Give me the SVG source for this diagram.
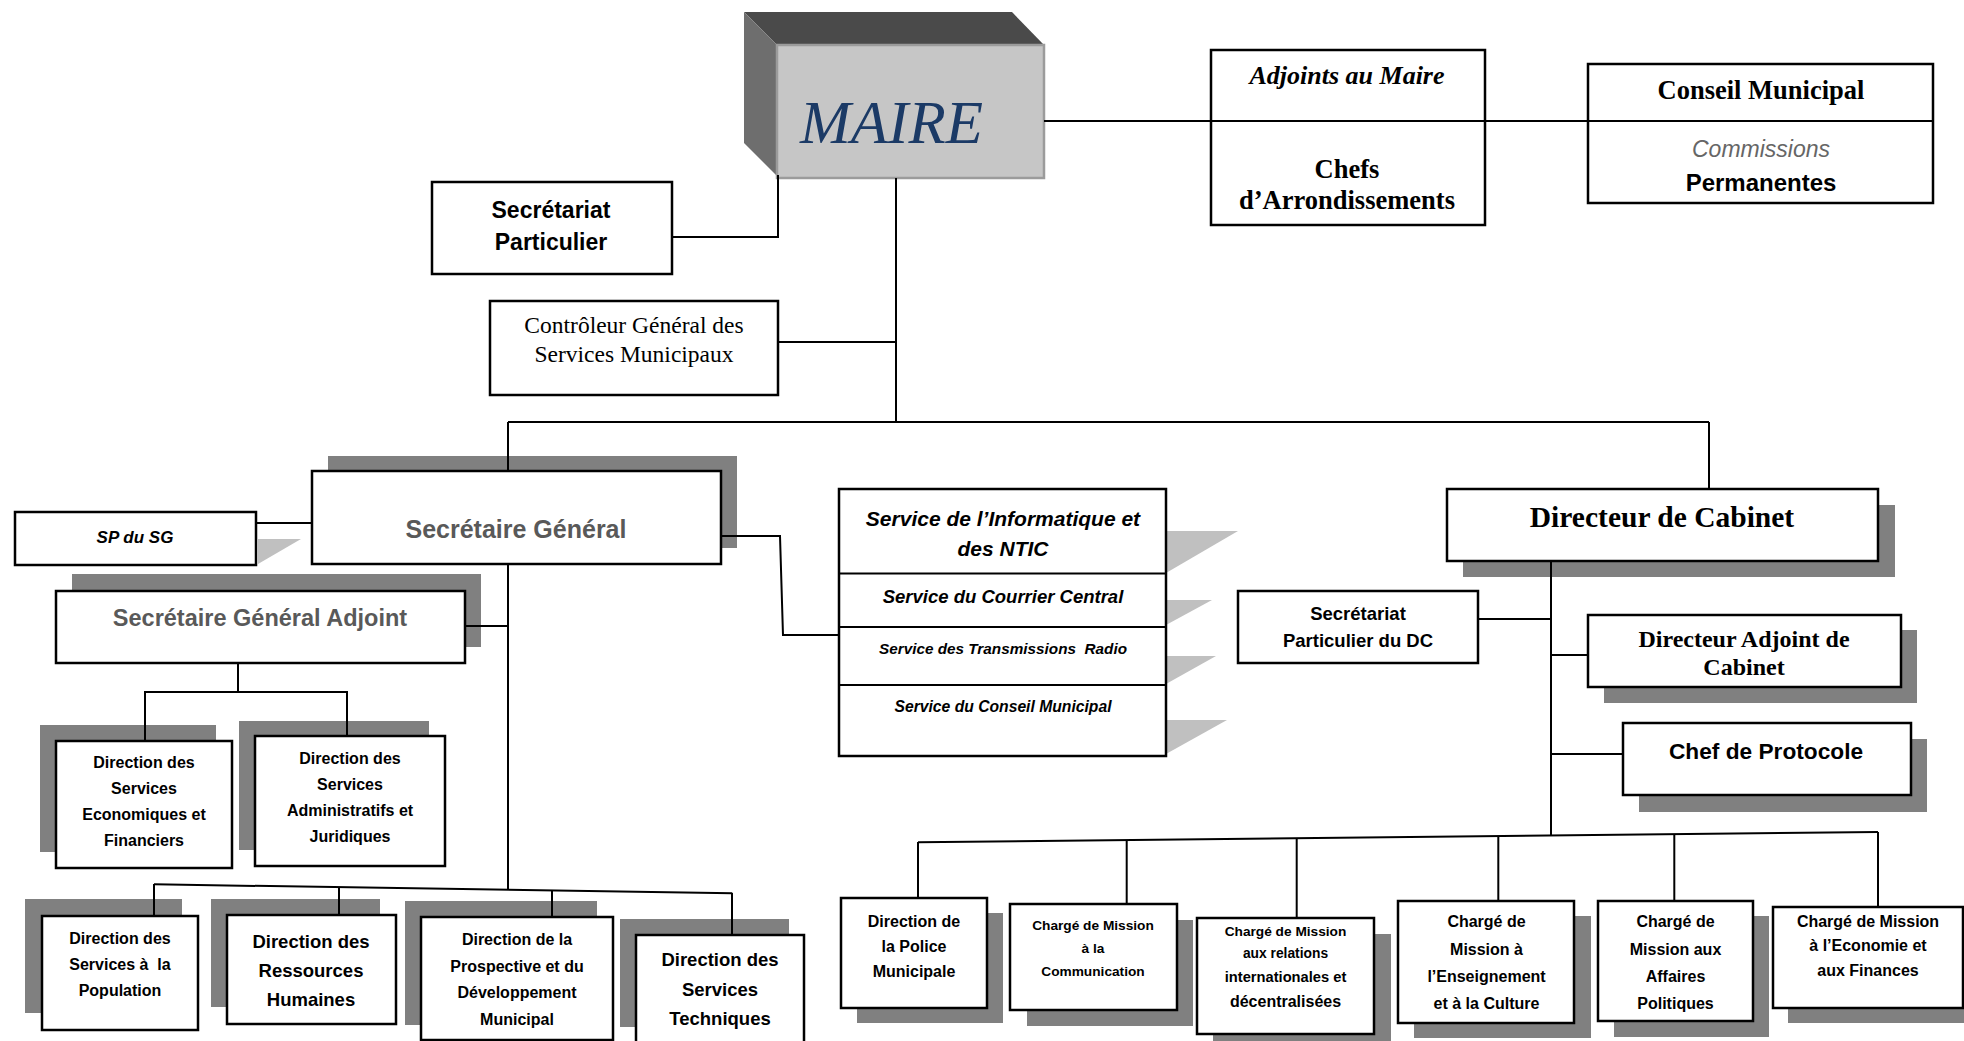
<svg xmlns="http://www.w3.org/2000/svg" width="1964" height="1041" viewBox="0 0 1964 1041">
<style>
.bx{fill:#fff;stroke:#000;stroke-width:2.5}
.sh{fill:#808080}
.tri{fill:#c0c0c0}
.ln{stroke:#000;stroke-width:2;fill:none}
text{text-anchor:middle}
.s{font-family:"Liberation Sans",Arial,sans-serif;font-weight:bold;fill:#000}
.si{font-family:"Liberation Sans",Arial,sans-serif;font-weight:bold;font-style:italic;fill:#000}
.g{fill:#595959}
.r{font-family:"Liberation Serif","Times New Roman",serif;fill:#000}
.rb{font-family:"Liberation Serif","Times New Roman",serif;font-weight:bold;fill:#000}
.rbi{font-family:"Liberation Serif","Times New Roman",serif;font-weight:bold;font-style:italic;fill:#000}
.pre{white-space:pre}
</style>

<g id="maire">
<polygon points="744,12 1012,12 1044,45 777,45" fill="#4a4a4a"/>
<polygon points="744,12 777,45 777,176 744,143" fill="#6e6e6e"/>
<rect x="777" y="45" width="267" height="133" fill="#c6c6c6" stroke="#9b9b9b" stroke-width="2.5"/>
<text x="800" y="143" style="text-anchor:start;font-family:'Liberation Serif','Times New Roman',serif;font-style:italic;font-size:61px;fill:#1b3a66">MAIRE</text>
</g>

<g id="adjoints">
<rect class="bx" x="1211" y="50" width="274" height="175"/>
<line class="ln" x1="1211" y1="121" x2="1485" y2="121"/>
<text class="rbi" x="1347" y="84" font-size="26">Adjoints au Maire</text>
<text class="rb" x="1347" y="178" font-size="26.5">Chefs</text>
<text class="rb" x="1347" y="209" font-size="26.5">d’Arrondissements</text>
</g>

<g id="conseil">
<rect class="bx" x="1588" y="64" width="345" height="139"/>
<line class="ln" x1="1588" y1="121" x2="1933" y2="121"/>
<text class="rb" x="1761" y="99" font-size="26.5">Conseil Municipal</text>
<text x="1761" y="157" font-size="23" style="font-family:'Liberation Sans',Arial,sans-serif;font-style:italic;fill:#666">Commissions</text>
<text class="s" x="1761" y="191" font-size="24">Permanentes</text>
</g>

<g id="sec-part">
<rect class="bx" x="432" y="182" width="240" height="92"/>
<text class="s" x="551" y="218" font-size="23">Secrétariat</text>
<text class="s" x="551" y="250" font-size="23">Particulier</text>
</g>

<g id="controleur">
<rect class="bx" x="490" y="301" width="288" height="94"/>
<text class="r" x="634" y="333" font-size="23.5">Contrôleur Général des</text>
<text class="r" x="634" y="362" font-size="23.5">Services Municipaux</text>
</g>

<g id="sg">
<rect class="sh" x="328" y="456" width="409" height="92"/>
<rect class="bx" x="312" y="471" width="409" height="93"/>
<text class="s g" x="516" y="538" font-size="25">Secrétaire Général</text>
</g>

<g id="sp-sg">
<rect class="bx" x="15" y="512" width="241" height="53"/>
<polygon class="tri" points="258,539 301,539 258,564"/>
<text class="si" x="135" y="543" font-size="17">SP du SG</text>
</g>

<g id="sga">
<rect class="sh" x="72" y="574" width="409" height="73"/>
<rect class="bx" x="56" y="591" width="409" height="72"/>
<text class="s g" x="260" y="626" font-size="23.5">Secrétaire Général Adjoint</text>
</g>

<g id="dsef">
<rect class="sh" x="40" y="725" width="176" height="127"/>
<rect class="bx" x="56" y="741" width="176" height="127"/>
<text class="s" x="144" y="768" font-size="16">Direction des</text>
<text class="s" x="144" y="794" font-size="16">Services</text>
<text class="s" x="144" y="819.5" font-size="16">Economiques et</text>
<text class="s" x="144" y="846" font-size="16">Financiers</text>
</g>

<g id="dsaj">
<rect class="sh" x="239" y="721" width="190" height="129"/>
<rect class="bx" x="255" y="736" width="190" height="130"/>
<text class="s" x="350" y="764" font-size="16">Direction des</text>
<text class="s" x="350" y="790" font-size="16">Services</text>
<text class="s" x="350" y="815.5" font-size="16">Administratifs et</text>
<text class="s" x="350" y="842" font-size="16">Juridiques</text>
</g>

<g id="dsp">
<rect class="sh" x="25" y="899" width="157" height="114"/>
<rect class="bx" x="42" y="916" width="156" height="114"/>
<text class="s" x="120" y="944" font-size="16">Direction des</text>
<text class="s pre" x="120" y="970" font-size="16">Services à  la</text>
<text class="s" x="120" y="996" font-size="16">Population</text>
</g>

<g id="drh">
<rect class="sh" x="211" y="899" width="169" height="108"/>
<rect class="bx" x="227" y="915" width="169" height="109"/>
<text class="s" x="311" y="948" font-size="18.5">Direction des</text>
<text class="s" x="311" y="977" font-size="18.5">Ressources</text>
<text class="s" x="311" y="1006" font-size="18.5">Humaines</text>
</g>

<g id="dpdm">
<rect class="sh" x="405" y="901" width="192" height="124"/>
<rect class="bx" x="421" y="917" width="192" height="123"/>
<text class="s" x="517" y="945" font-size="16">Direction de la</text>
<text class="s" x="517" y="971.5" font-size="16">Prospective et du</text>
<text class="s" x="517" y="998" font-size="16">Développement</text>
<text class="s" x="517" y="1024.5" font-size="16">Municipal</text>
</g>

<g id="dst">
<rect class="sh" x="620" y="919" width="169" height="108"/>
<rect class="bx" x="636" y="935" width="168" height="112"/>
<text class="s" x="720" y="966" font-size="18.5">Direction des</text>
<text class="s" x="720" y="996" font-size="18.5">Services</text>
<text class="s" x="720" y="1025" font-size="18.5">Techniques</text>
</g>

<g id="services">
<polygon class="tri" points="1166,531 1238,531 1166,573"/>
<polygon class="tri" points="1166,600 1212,600 1166,625"/>
<polygon class="tri" points="1166,656 1216,656 1166,684"/>
<polygon class="tri" points="1166,720 1227,720 1166,754"/>
<rect class="bx" x="839" y="489" width="327" height="267"/>
<line class="ln" x1="839" y1="573.5" x2="1166" y2="573.5" stroke-width="2.5"/>
<line class="ln" x1="839" y1="627" x2="1166" y2="627" stroke-width="2.5"/>
<line class="ln" x1="839" y1="685" x2="1166" y2="685" stroke-width="2.5"/>
<text class="si" x="1003" y="526" font-size="21">Service de l’Informatique et</text>
<text class="si" x="1003" y="556" font-size="21">des NTIC</text>
<text class="si" x="1003" y="603" font-size="18.5">Service du Courrier Central</text>
<text class="si pre" x="1003" y="653.5" font-size="15.3">Service des Transmissions  Radio</text>
<text class="si" x="1003" y="712" font-size="15.7">Service du Conseil Municipal</text>
</g>

<g id="dc">
<rect class="sh" x="1463" y="505" width="432" height="72"/>
<rect class="bx" x="1447" y="489" width="431" height="72"/>
<text class="rb" x="1662" y="527" font-size="29.5">Directeur de Cabinet</text>
</g>

<g id="sec-dc">
<rect class="bx" x="1238" y="591" width="240" height="72"/>
<text class="s" x="1358" y="620" font-size="18.5">Secrétariat</text>
<text class="s" x="1358" y="647" font-size="18.5">Particulier du DC</text>
</g>

<g id="dac">
<rect class="sh" x="1604" y="630" width="313" height="73"/>
<rect class="bx" x="1588" y="615" width="313" height="72"/>
<text class="rb" x="1744" y="647" font-size="24">Directeur Adjoint de</text>
<text class="rb" x="1744" y="675" font-size="24">Cabinet</text>
</g>

<g id="protocole">
<rect class="sh" x="1639" y="739" width="288" height="73"/>
<rect class="bx" x="1623" y="723" width="288" height="72"/>
<text class="s" x="1766" y="759" font-size="22.7">Chef de Protocole</text>
</g>

<g id="police">
<rect class="sh" x="857" y="913" width="146" height="110"/>
<rect class="bx" x="841" y="898" width="146" height="110"/>
<text class="s" x="914" y="927" font-size="16">Direction de</text>
<text class="s" x="914" y="952" font-size="16">la Police</text>
<text class="s" x="914" y="977" font-size="16">Municipale</text>
</g>

<g id="cm-comm">
<rect class="sh" x="1027" y="920" width="166" height="106"/>
<rect class="bx" x="1010" y="904" width="167" height="106"/>
<text class="s" x="1093" y="930" font-size="13.7">Chargé de Mission</text>
<text class="s" x="1093" y="953" font-size="13.7">à la</text>
<text class="s" x="1093" y="976" font-size="13.7">Communication</text>
</g>

<g id="cm-rel">
<rect class="sh" x="1213" y="934" width="178" height="107"/>
<rect class="bx" x="1197" y="918" width="177" height="116"/>
<text class="s" x="1285.5" y="936" font-size="13.7">Chargé de Mission</text>
<text class="s" x="1285.5" y="958" font-size="13.8">aux relations</text>
<text class="s" x="1285.5" y="981.5" font-size="14.7">internationales et</text>
<text class="s" x="1285.5" y="1006.5" font-size="16">décentralisées</text>
</g>

<g id="cm-ens">
<rect class="sh" x="1414" y="916" width="177" height="122"/>
<rect class="bx" x="1398" y="901" width="176" height="122"/>
<text class="s" x="1486.5" y="927" font-size="16">Chargé de</text>
<text class="s" x="1486.5" y="955" font-size="16">Mission à</text>
<text class="s" x="1486.5" y="982" font-size="16">l’Enseignement</text>
<text class="s" x="1486.5" y="1008.5" font-size="16">et à la Culture</text>
</g>

<g id="cm-pol">
<rect class="sh" x="1614" y="916" width="155" height="121"/>
<rect class="bx" x="1598" y="901" width="155" height="120"/>
<text class="s" x="1675.5" y="927" font-size="16">Chargé de</text>
<text class="s" x="1675.5" y="955" font-size="16">Mission aux</text>
<text class="s" x="1675.5" y="982" font-size="16">Affaires</text>
<text class="s" x="1675.5" y="1008.5" font-size="16">Politiques</text>
</g>

<g id="cm-eco">
<rect class="sh" x="1788" y="922" width="180" height="101"/>
<rect class="bx" x="1773" y="907" width="190" height="101"/>
<text class="s" x="1868" y="927" font-size="16">Chargé de Mission</text>
<text class="s" x="1868" y="951" font-size="16">à l’Economie et</text>
<text class="s" x="1868" y="976" font-size="16">aux Finances</text>
</g>

<g id="connectors">
<line class="ln" x1="1044" y1="121" x2="1588" y2="121"/>
<polyline class="ln" points="778,175 778,237 672,237"/>
<line class="ln" x1="896" y1="178" x2="896" y2="422"/>
<line class="ln" x1="778" y1="342" x2="896" y2="342"/>
<line class="ln" x1="508" y1="422" x2="1709" y2="422"/>
<line class="ln" x1="508" y1="422" x2="508" y2="471"/>
<line class="ln" x1="1709" y1="422" x2="1709" y2="489"/>
<line class="ln" x1="256" y1="523" x2="312" y2="523"/>
<line class="ln" x1="465" y1="626" x2="508" y2="626"/>
<polyline class="ln" points="721,536 780,536 783,635 839,635"/>
<polyline class="ln" points="238,663 238,692"/>
<polyline class="ln" points="145,741 145,692 347,692 347,736"/>
<line class="ln" x1="508" y1="564" x2="508" y2="890"/>
<line class="ln" x1="154" y1="884.3" x2="732.3" y2="893.3"/>
<line class="ln" x1="154" y1="884" x2="154" y2="916"/>
<line class="ln" x1="339" y1="887" x2="339" y2="915"/>
<line class="ln" x1="552" y1="890.5" x2="552" y2="917"/>
<line class="ln" x1="732" y1="893" x2="732" y2="935"/>
<line class="ln" x1="1551" y1="561" x2="1551" y2="835.5"/>
<line class="ln" x1="1478" y1="619" x2="1551" y2="619"/>
<line class="ln" x1="1551" y1="655" x2="1588" y2="655"/>
<line class="ln" x1="1551" y1="754" x2="1623" y2="754"/>
<line class="ln" x1="918" y1="842.3" x2="1878" y2="832"/>
<line class="ln" x1="918" y1="842" x2="918" y2="898"/>
<line class="ln" x1="1126.7" y1="840" x2="1126.7" y2="904"/>
<line class="ln" x1="1296.7" y1="838" x2="1296.7" y2="918"/>
<line class="ln" x1="1498.3" y1="836" x2="1498.3" y2="901"/>
<line class="ln" x1="1674.3" y1="834" x2="1674.3" y2="901"/>
<line class="ln" x1="1878" y1="832" x2="1878" y2="907"/>
</g>
</svg>
